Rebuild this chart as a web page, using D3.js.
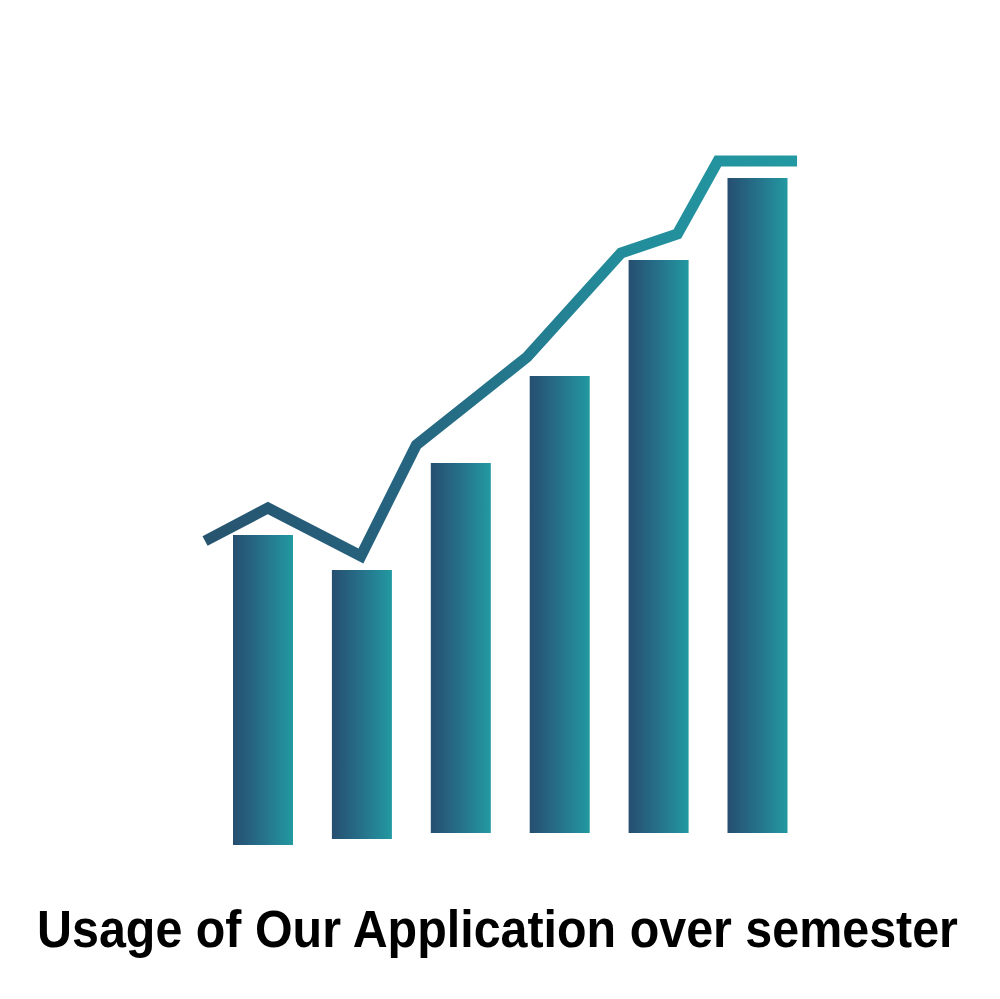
<!DOCTYPE html>
<html>
<head>
<meta charset="utf-8">
<script src="https://cdn.jsdelivr.net/npm/d3@7"></script>
<style>
  html, body { margin: 0; padding: 0; background: #ffffff; }
  svg { display: block; }
</style>
</head>
<body>
<script>
// ---- Data ----
const semesters = ["S1", "S2", "S3", "S4", "S5", "S6"];
const barValues = [310, 275, 382, 469, 585, 667];
const barBases = [0, 6, 12, 12, 12, 12];
const linePositions = [-0.586, 0.05, 0.99, 1.55, 2.67, 3.62, 4.19, 4.6, 5.4];
const lineValues = [304, 337, 289, 400, 488, 592, 611, 684, 684];
const titleText = "Usage of Our Application over semester";

// ---- Layout ----
const W = 1000, H = 999;
const svg = d3.select("body").append("svg").attr("width", W).attr("height", H);

const x = d3.scaleLinear().domain([0, 5]).range([263, 757.5]);
const y = d3.scaleLinear().domain([0, 700]).range([845, 145]);
const barW = 60;

const defs = svg.append("defs");
const bg = defs.append("linearGradient").attr("id", "barGrad")
  .attr("x1", "0%").attr("x2", "100%").attr("y1", "0%").attr("y2", "0%");
bg.append("stop").attr("offset", "0%").attr("stop-color", "#264e70");
bg.append("stop").attr("offset", "50%").attr("stop-color", "#26718a");
bg.append("stop").attr("offset", "100%").attr("stop-color", "#2299a1");

const lg = defs.append("linearGradient").attr("id", "lineGrad")
  .attr("gradientUnits", "userSpaceOnUse")
  .attr("x1", x(linePositions[0])).attr("x2", x(linePositions[linePositions.length - 1]))
  .attr("y1", 0).attr("y2", 0);
lg.append("stop").attr("offset", "0%").attr("stop-color", "#27546f");
lg.append("stop").attr("offset", "35%").attr("stop-color", "#266580");
lg.append("stop").attr("offset", "70%").attr("stop-color", "#238c9a");
lg.append("stop").attr("offset", "100%").attr("stop-color", "#2299a2");

svg.append("g").selectAll("rect")
  .data(semesters)
  .join("rect")
  .attr("x", (d, i) => x(i) - barW / 2)
  .attr("width", barW)
  .attr("y", (d, i) => y(barValues[i]))
  .attr("height", (d, i) => y(barBases[i]) - y(barValues[i]))
  .attr("fill", "url(#barGrad)");

const linePts = linePositions.map((p, i) => [p, lineValues[i]]);
const line = d3.line().x(d => x(d[0])).y(d => y(d[1]));
svg.append("path")
  .datum(linePts)
  .attr("d", line)
  .attr("fill", "none")
  .attr("stroke", "url(#lineGrad)")
  .attr("stroke-width", 11)
  .attr("stroke-linejoin", "miter")
  .attr("stroke-linecap", "butt");

// Title: measured, then scaled to match the reference's condensed look
const baseSize = 40;
const title = svg.append("text")
  .attr("x", 0)
  .attr("y", 0)
  .attr("text-anchor", "middle")
  .attr("font-family", "'Liberation Sans', Arial, sans-serif")
  .attr("font-weight", "bold")
  .attr("font-size", baseSize)
  .attr("fill", "#000000")
  .text(titleText);
const natW = title.node().getComputedTextLength();
const sx = 921 / natW;
const sy = 51 / baseSize;
title.attr("transform", `translate(497.5,947) scale(${sx},${sy})`);
</script>
</body>
</html>
